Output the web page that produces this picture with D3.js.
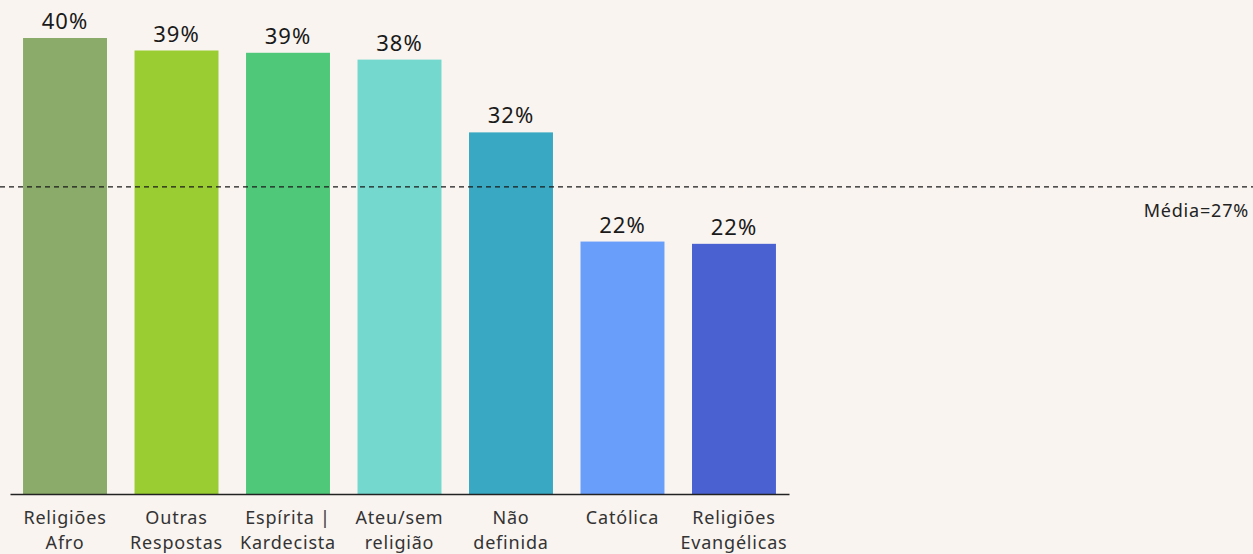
<!DOCTYPE html>
<html>
<head>
<meta charset="utf-8">
<script src="https://cdn.jsdelivr.net/npm/d3@7"></script>
<style>
  html, body { margin: 0; padding: 0; background: #f9f4f0; }
  svg { display: block; }
  text { font-family: "Noto Sans", "Open Sans", sans-serif; }
</style>
</head>
<body>
<svg id="chart" width="1253" height="554"></svg>
<script>
const categories = [
  ["Religiões", "Afro"],
  ["Outras", "Respostas"],
  ["Espírita |", "Kardecista"],
  ["Ateu/sem", "religião"],
  ["Não", "definida"],
  ["Católica"],
  ["Religiões", "Evangélicas"]
];
const values = [40.1, 39.0, 38.8, 38.2, 31.8, 22.2, 22.0];
const valueLabels = ["40%", "39%", "39%", "38%", "32%", "22%", "22%"];
const colors = ["#8aab69", "#9acd32", "#50c87a", "#74d8cf", "#39a8c2", "#6a9efb", "#4a62d1"];
const meanValue = 27;
const meanLabel = "Média=27%";

const W = 1253, H = 554;
const svg = d3.select("#chart");
const keys = categories.map((c, i) => i);

const x = d3.scaleBand().domain(keys).range([10, 789]).paddingInner(0.247).paddingOuter(0.117);
const y = d3.scaleLinear().domain([0, 40.1]).range([494, 38]);

svg.append("g").selectAll("rect").data(values).join("rect")
  .attr("x", (d, i) => x(i))
  .attr("y", d => y(d))
  .attr("width", x.bandwidth())
  .attr("height", d => y(0) - y(d))
  .attr("fill", (d, i) => colors[i]);

svg.append("g").selectAll("text").data(values).join("text")
  .attr("x", (d, i) => x(i) + x.bandwidth() / 2)
  .attr("y", d => y(d) - 9)
  .attr("text-anchor", "middle")
  .attr("font-size", 22)
  .attr("letter-spacing", 1)
  .attr("fill", "#1a1a1a")
  .text((d, i) => valueLabels[i]);

// baseline axis
const axis = d3.axisBottom(x).tickSize(0).tickFormat("");
const ag = svg.append("g").attr("transform", `translate(0,${y(0)})`).call(axis);
ag.select(".domain").attr("stroke", "#222").attr("stroke-width", 1.5);

// category labels
const lab = svg.append("g").selectAll("text").data(categories).join("text")
  .attr("x", (d, i) => x(i) + x.bandwidth() / 2)
  .attr("y", 524)
  .attr("text-anchor", "middle")
  .attr("font-size", 18)
  .attr("letter-spacing", 0.8)
  .attr("fill", "#333");
lab.each(function(d) {
  const t = d3.select(this);
  d.forEach((line, j) => {
    t.append("tspan").attr("x", t.attr("x")).attr("dy", j === 0 ? 0 : 25).text(line);
  });
});

// mean line
svg.append("line")
  .attr("x1", 0).attr("x2", W)
  .attr("y1", y(meanValue)).attr("y2", y(meanValue))
  .attr("stroke", "#1a1a1a").attr("stroke-width", 1.3)
  .attr("stroke-dasharray", "5,4");
svg.append("text")
  .attr("x", 1249).attr("y", y(meanValue) + 30)
  .attr("text-anchor", "end")
  .attr("font-size", 18)
  .attr("letter-spacing", 0.8)
  .attr("fill", "#222")
  .text(meanLabel);
</script>
</body>
</html>
